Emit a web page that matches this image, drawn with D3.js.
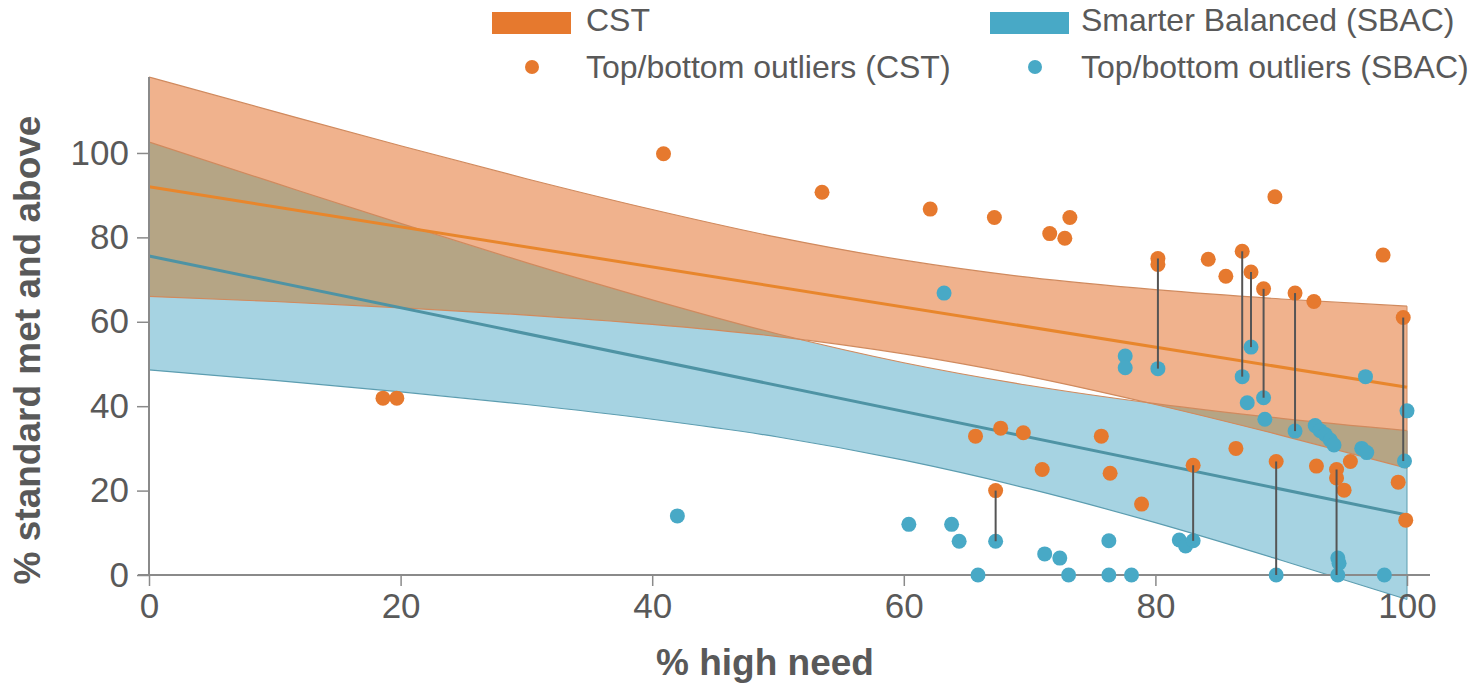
<!DOCTYPE html>
<html>
<head>
<meta charset="utf-8">
<script src="https://cdn.jsdelivr.net/npm/d3@7"></script>
<style>
  html, body { margin: 0; padding: 0; background: #fff; }
  svg { display: block; font-family: "Liberation Sans", Arial, sans-serif; }
</style>
</head>
<body>
<svg id="chart" width="1475" height="687"></svg>
<script>
// ---------- DATA ----------
const xTicks = [0, 20, 40, 60, 80, 100];
const yTicks = [0, 20, 40, 60, 80, 100];

// regression confidence bands
const bandX    = [0, 10, 20, 30, 40, 50, 60, 70, 80, 90, 100];
const cstLow   = [66.0, 64.8, 63.3, 61.6, 59.4, 56.5, 52.4, 47.0, 40.4, 33.1, 25.3];
const cstHigh  = [118.0, 109.8, 101.7, 93.9, 86.6, 80.0, 74.6, 70.5, 67.6, 65.4, 63.7];
const sbacLow  = [48.6, 46.1, 43.4, 40.4, 36.9, 32.7, 27.2, 20.4, 12.4, 3.5, -5.8];
const sbacHigh = [102.6, 92.9, 83.3, 74.0, 65.2, 57.1, 50.3, 44.9, 40.6, 37.1, 34.2];

// trend lines
const trendX     = [0, 100];
const cstTrend   = [92.0, 44.5];
const sbacTrend  = [75.6, 14.2];

// outliers CST
const cstX = [18.6, 19.7, 40.9, 53.5, 62.1, 65.7, 67.2, 67.3, 67.7, 69.5, 71.0, 71.6, 72.8, 73.2,
              75.7, 76.4, 78.9, 80.2, 80.2, 83.0, 84.2, 85.6, 86.4, 86.9, 87.6, 88.6, 89.5, 89.6,
              91.1, 92.6, 92.8, 94.4, 94.4, 95.0, 95.5, 98.1, 99.3, 99.7, 99.9];
const cstY = [41.9, 41.9, 99.8, 90.7, 86.7, 32.9, 84.7, 20.0, 34.8, 33.7, 25.0, 80.9, 79.8, 84.7,
              32.9, 24.1, 16.8, 75.0, 73.6, 26.0, 74.8, 70.8, 30.0, 76.7, 71.8, 67.8, 89.6, 26.9,
              66.8, 64.8, 25.8, 25.0, 23.0, 20.1, 26.9, 75.8, 22.0, 61.0, 13.0];

// outliers SBAC
const sbacX = [42.0, 60.4, 63.2, 63.8, 64.4, 65.9, 67.3, 71.2, 72.4, 73.1, 76.3, 76.3, 78.1, 77.6,
               77.6, 80.2, 81.9, 82.4, 83.0, 86.9, 87.3, 87.6, 88.6, 88.7, 89.6, 91.1, 92.7, 93.1,
               93.5, 93.9, 94.2, 94.5, 94.6, 94.5, 96.4, 96.8, 96.7, 98.2, 100.0, 99.8];
const sbacY = [14.0, 12.0, 66.8, 12.0, 8.0, 0.0, 8.0, 5.0, 4.0, 0.0, 8.1, 0.0, 0.0, 51.9,
               49.1, 48.9, 8.3, 6.9, 8.1, 47.0, 40.8, 54.0, 42.0, 36.9, 0.0, 34.1, 35.4, 34.2,
               33.3, 32.0, 30.8, 4.0, 2.8, 0.0, 30.0, 29.0, 47.0, 0.0, 38.9, 27.0];

// schools that are outliers in both tests (connected)
const linkX    = [67.3, 80.2, 83.0, 86.9, 87.6, 88.6, 89.6, 91.1, 94.4, 99.7];
const linkCst  = [20.0, 75.0, 26.0, 76.7, 71.8, 67.8, 26.9, 66.8, 25.0, 61.0];
const linkSbac = [8.0, 48.9, 8.1, 47.0, 54.0, 42.0, 0.0, 34.1, 0.0, 27.0];

const legendLabels = ["CST", "Smarter Balanced (SBAC)", "Top/bottom outliers (CST)", "Top/bottom outliers (SBAC)"];

// ---------- STYLE ----------
const C = {
  orangeDot: "#e6792e",
  blueDot: "#48a9c6",
  orangeBand: "#f0b28d",
  blueBand: "#a6d3e2",
  overlap: "#b5a585",
  orangeLine: "#e8862c",
  blueLine: "#4e93a4",
  orangeEdge: "#d08a5e",
  blueEdge: "#5c9db0",
  axis: "#8a8a8a",
  text: "#595959",
  link: "#555555"
};

const svg = d3.select("#chart");
const x = d3.scaleLinear().domain([0, 100]).range([149, 1407]);
const y = d3.scaleLinear().domain([0, 118]).range([575, 77]);

const idx = d3.range(bandX.length);
const area = (lo, hi) => d3.area().curve(d3.curveMonotoneX)
  .x(i => x(bandX[i])).y0(i => y(lo[i])).y1(i => y(hi[i]));
const edge = arr => d3.line().curve(d3.curveMonotoneX).x(i => x(bandX[i])).y(i => y(arr[i]));

const defs = svg.append("defs");
defs.append("clipPath").attr("id", "blueClip")
  .append("path").attr("d", area(sbacLow, sbacHigh)(idx));

const plot = svg.append("g");
// bands
plot.append("path").attr("d", area(sbacLow, sbacHigh)(idx)).attr("fill", C.blueBand);
plot.append("path").attr("d", area(cstLow, cstHigh)(idx)).attr("fill", C.orangeBand);
plot.append("path").attr("d", area(cstLow, cstHigh)(idx)).attr("fill", C.overlap)
  .attr("clip-path", "url(#blueClip)");
// band edges
[[sbacLow, C.blueEdge], [sbacHigh, C.orangeEdge], [cstLow, C.orangeEdge], [cstHigh, C.orangeEdge]].forEach(([a, col]) => {
  plot.append("path").attr("d", edge(a)(idx)).attr("fill", "none").attr("stroke", col).attr("stroke-width", 1.2);
});
// right edges
plot.append("line").attr("x1", x(100)).attr("x2", x(100)).attr("y1", y(sbacLow[10])).attr("y2", y(sbacHigh[10]))
  .attr("stroke", C.blueEdge).attr("stroke-width", 1);
plot.append("line").attr("x1", x(100)).attr("x2", x(100)).attr("y1", y(cstLow[10])).attr("y2", y(cstHigh[10]))
  .attr("stroke", C.orangeEdge).attr("stroke-width", 1);

// trend lines
const tl = d3.line().x((d, i) => x(trendX[i])).y(d => y(d));
plot.append("path").attr("d", tl(sbacTrend)).attr("fill", "none").attr("stroke", C.blueLine).attr("stroke-width", 3);
plot.append("path").attr("d", tl(cstTrend)).attr("fill", "none").attr("stroke", C.orangeLine).attr("stroke-width", 3);

// axes
const gx = svg.append("g").attr("transform", "translate(0,575)")
  .call(d3.axisBottom(x).tickValues(xTicks).tickSize(11).tickPadding(7).tickSizeOuter(0));
const gy = svg.append("g").attr("transform", "translate(149,0)")
  .call(d3.axisLeft(y).tickValues(yTicks).tickSize(12).tickPadding(8).tickSizeOuter(0));
[gx, gy].forEach(g => {
  g.select(".domain").remove();
  g.selectAll(".tick line").attr("stroke", C.axis).attr("stroke-width", 1.5);
  g.selectAll(".tick text").attr("fill", C.text).attr("font-size", 35)
    .attr("font-family", "'Liberation Sans', Arial, sans-serif");
});
svg.append("line").attr("x1", 138).attr("x2", 1430).attr("y1", 575).attr("y2", 575)
  .attr("stroke", C.axis).attr("stroke-width", 2);
svg.append("line").attr("x1", 149).attr("x2", 149).attr("y1", y(118)).attr("y2", 575)
  .attr("stroke", C.axis).attr("stroke-width", 2);

// dots
const dots = svg.append("g");
dots.selectAll("circle.cst").data(cstX).join("circle").attr("class", "cst")
  .attr("cx", d => x(d)).attr("cy", (d, i) => y(cstY[i])).attr("r", 7.5).attr("fill", C.orangeDot);
dots.selectAll("circle.sbac").data(sbacX).join("circle").attr("class", "sbac")
  .attr("cx", d => x(d)).attr("cy", (d, i) => y(sbacY[i])).attr("r", 7.5).attr("fill", C.blueDot);

// connectors
svg.append("g").selectAll("line").data(linkX).join("line")
  .attr("x1", d => x(d)).attr("x2", d => x(d))
  .attr("y1", (d, i) => y(linkCst[i])).attr("y2", (d, i) => y(linkSbac[i]))
  .attr("stroke", C.link).attr("stroke-width", 2);

// axis titles
svg.append("text").attr("x", 765).attr("y", 675).attr("text-anchor", "middle")
  .attr("font-size", 37).attr("font-weight", "bold").attr("fill", C.text).text("% high need");
svg.append("text").attr("transform", "translate(40,350) rotate(-90)").attr("text-anchor", "middle")
  .attr("font-size", 37).attr("font-weight", "bold").attr("fill", C.text).text("% standard met and above");

// legend
const lg = svg.append("g").attr("font-size", 32).attr("fill", C.text);
lg.append("rect").attr("x", 492).attr("y", 12).attr("width", 79).attr("height", 22).attr("fill", C.orangeDot);
lg.append("text").attr("x", 586).attr("y", 31).text(legendLabels[0]);
lg.append("rect").attr("x", 990).attr("y", 12).attr("width", 79).attr("height", 22).attr("fill", C.blueDot);
lg.append("text").attr("x", 1081).attr("y", 31).text(legendLabels[1]);
lg.append("circle").attr("cx", 532).attr("cy", 67).attr("r", 7).attr("fill", C.orangeDot);
lg.append("text").attr("x", 586).attr("y", 78).text(legendLabels[2]);
lg.append("circle").attr("cx", 1035).attr("cy", 67).attr("r", 7).attr("fill", C.blueDot);
lg.append("text").attr("x", 1081).attr("y", 78).text(legendLabels[3]);
</script>
</body>
</html>
